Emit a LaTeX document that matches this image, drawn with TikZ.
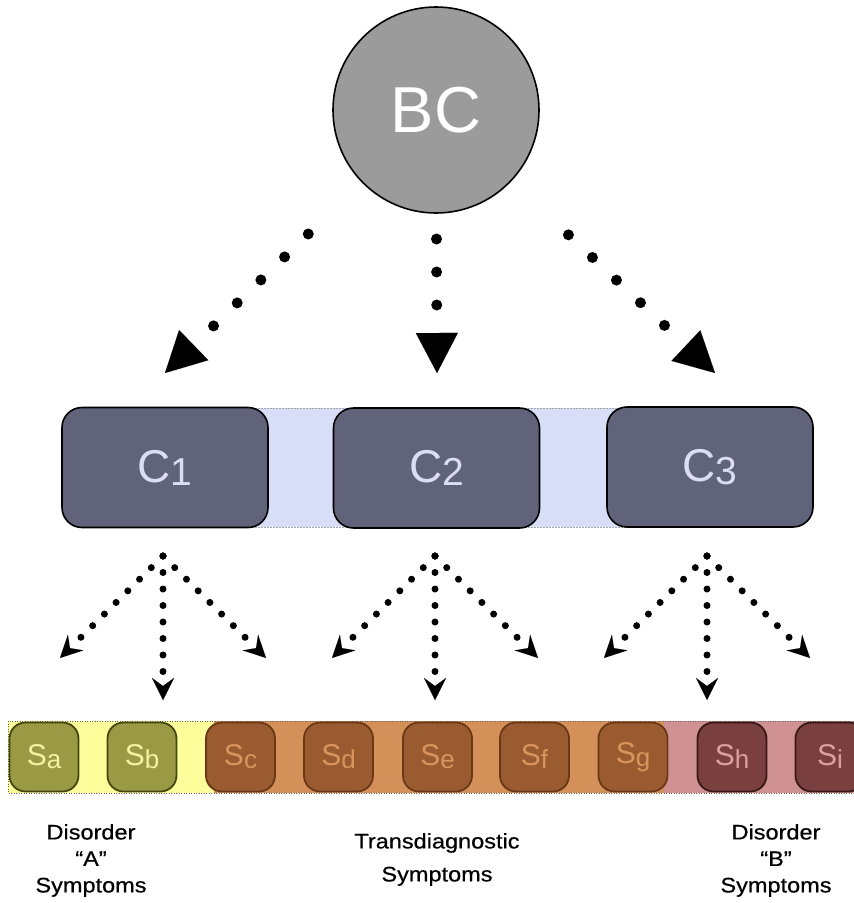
\documentclass[tikz,border=0pt]{standalone}
\usepackage{fontspec}
\setmainfont{Liberation Sans}
\newfontfamily\labfont[FakeStretch=1.12,FakeBold=0.6]{Liberation Sans}
\usetikzlibrary{arrows.meta}
\definecolor{bcgray}{HTML}{9B9B9B}
\definecolor{cfill}{HTML}{60637A}
\definecolor{ctext}{HTML}{DADDF3}
\definecolor{cband}{HTML}{D8DEF8}
\definecolor{yband}{HTML}{FDFD9B}
\definecolor{oband}{HTML}{D39058}
\definecolor{pband}{HTML}{CF9191}
\definecolor{afill}{HTML}{9A9A45}
\definecolor{aline}{HTML}{45450F}
\definecolor{atext}{HTML}{F4F2A0}
\definecolor{tfill}{HTML}{9A5B30}
\definecolor{tline}{HTML}{6A3817}
\definecolor{ttext}{HTML}{D8955E}
\definecolor{bfill}{HTML}{7A3F3F}
\definecolor{bline}{HTML}{3A1818}
\definecolor{btext}{HTML}{DCA0A0}
\newcommand\mysublab[4]{{\fontsize{#1}{#1}\selectfont #3}\raisebox{-3pt}{\fontsize{#2}{#2}\selectfont #4}}
\begin{document}
\begin{tikzpicture}[x=1pt,y=-1pt,
  bcnode/.style={circle,draw=black,line width=1.6pt,fill=bcgray,minimum size=206pt,inner sep=0pt,text=white,font=\fontsize{65}{65}\selectfont},
  cbox/.style={rectangle,rounded corners=20pt,draw=black,line width=1.6pt,fill=cfill,minimum width=206pt,minimum height=120pt,inner sep=0pt,text=ctext},
  sbox/.style={rectangle,rounded corners=16pt,line width=1.8pt,minimum width=69pt,minimum height=69pt,inner sep=0pt},
  sA/.style={sbox,draw=aline,fill=afill,text=atext},
  sT/.style={sbox,draw=tline,fill=tfill,text=ttext},
  sB/.style={sbox,draw=bline,fill=bfill,text=btext},
  bandborder/.style={draw=black!60,line width=0.8pt,dash pattern=on 1pt off 1.5pt},
  topdots/.style={line width=11pt,line cap=round,dash pattern=on 0pt off 33pt,
    -{Triangle[length=40pt,width=42pt,line width=0.01pt]}},
  lowdots/.style={line width=7pt,line cap=round,dash pattern=on 0pt off 16.5pt,
    -{Stealth[length=22pt,width=22pt,inset=8pt,line width=0.01pt]}},
  caption/.style={align=center,anchor=north,inner sep=0pt,font=\labfont\fontsize{21}{26.5}\selectfont}
]
\useasboundingbox (0,0) rectangle (854,903);
\clip (0,0) rectangle (854,903);

% C band
\fill[cband] (165,408) rectangle (710,527);
\draw[draw=black!35,line width=0.8pt,dash pattern=on 1.5pt off 1.5pt] (165,408) -- (710,408) (165,527) -- (710,527);

% S bands
\fill[yband] (8,721) rectangle (214,793);
\fill[oband] (214,721) rectangle (664,793);
\fill[pband] (664,721) rectangle (880,793);
\draw[bandborder] (8,721) rectangle (880,793);

% nodes
\node[bcnode] (BC) at (436,110) {BC};
\node[cbox] (C1) at (165,467.5) {\mysublab{46}{39}{C}{1}};
\node[cbox] (C2) at (436.5,468) {\mysublab{46}{39}{C}{2}};
\node[cbox] (C3) at (710,467) {\mysublab{46}{39}{C}{3}};

\node[sA] (Sa) at (44,757) {\mysublab{30}{26}{S}{a}};
\node[sA] (Sb) at (142,757) {\mysublab{30}{26}{S}{b}};
\node[sT] (Sc) at (240.5,757) {\mysublab{30}{26}{S}{c}};
\node[sT] (Sd) at (338.5,757) {\mysublab{30}{26}{S}{d}};
\node[sT] (Se) at (437.5,757) {\mysublab{30}{26}{S}{e}};
\node[sT] (Sf) at (534.5,757) {\mysublab{30}{26}{S}{f}};
\node[sT] (Sg) at (633,757) {\mysublab{30}{26}{S}{g}};
\node[sB] (Sh) at (732,757) {\mysublab{30}{26}{S}{h}};
\node[sB] (Si) at (830,757) {\mysublab{30}{26}{S}{i}};

% top arrows
\coordinate (t1) at (165,373);
\coordinate (t2) at (437,373);
\coordinate (t3) at (715,373);
\draw[topdots,shorten <=178pt] (BC.center) -- (t1);
\draw[topdots,shorten <=129pt] (BC.center) -- (t2);
\draw[topdots,shorten <=182pt] (BC.center) -- (t3);

% lower arrows
\foreach \c/\x in {C1/163,C2/435,C3/707}{
  \coordinate (\c o) at (\x,556);
  \coordinate (\c l) at (\x-103,658);
  \coordinate (\c m) at (\x,700);
  \coordinate (\c r) at (\x+103,658);
  \draw[lowdots] (\c o) -- (\c l);
  \draw[lowdots] (\c o) -- (\c m);
  \draw[lowdots] (\c o) -- (\c r);
}

% captions
\node[caption] (capA) at (91,824) {Disorder\\“A”\\Symptoms};
\node[caption,font=\labfont\fontsize{21}{33}\selectfont] (capT) at (437,833) {Transdiagnostic\\Symptoms};
\node[caption] (capB) at (776,824) {Disorder\\“B”\\Symptoms};
\end{tikzpicture}
\end{document}
